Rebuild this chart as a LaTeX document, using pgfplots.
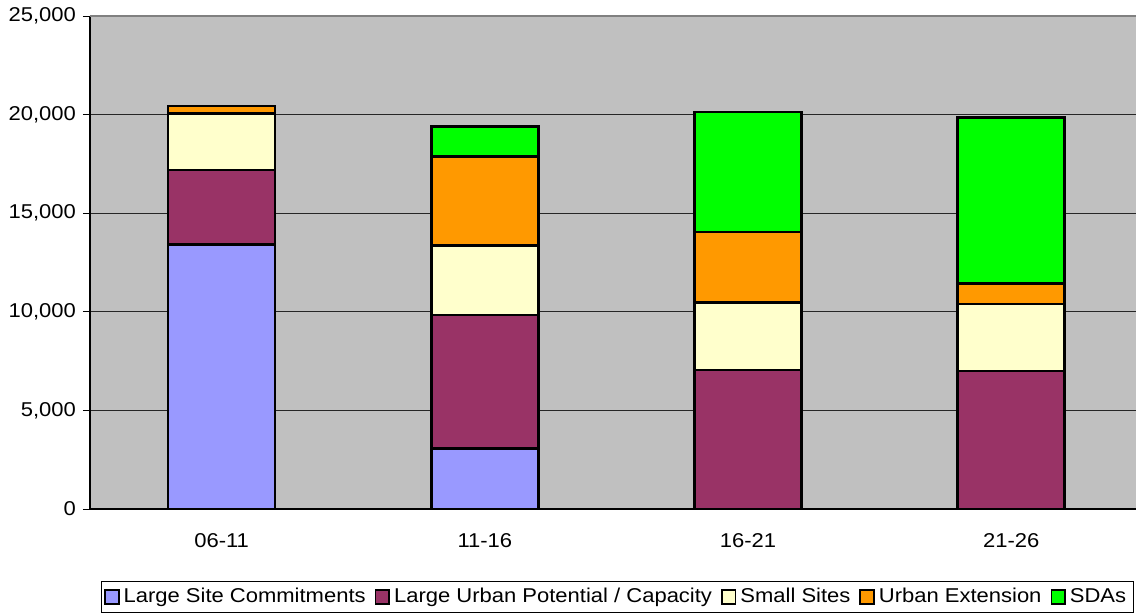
\documentclass[border=0pt]{standalone}
\usepackage{fontspec}
\setmainfont[FakeStretch=1.1]{Liberation Sans}
\usepackage{pgfplots}
\pgfplotsset{compat=1.18}
\definecolor{lsc}{HTML}{9999FF}
\definecolor{lup}{HTML}{993366}
\definecolor{ss}{HTML}{FFFFCC}
\definecolor{ue}{HTML}{FF9900}
\definecolor{sda}{HTML}{00FF00}
\definecolor{bg}{HTML}{C0C0C0}
\begin{document}
\fontsize{10}{12}\selectfont
\begin{tikzpicture}
\begin{axis}[
  name=ax,
  scale only axis,
  width=523pt, height=246.5pt,
  ybar stacked,
  bar width=53.5pt,
  xmin=-0.5, xmax=3.474,
  ymin=0, ymax=25000,
  xtick={0,1,2,3},
  xticklabels={06-11,11-16,16-21,21-26},
  major x tick style={draw=none},
  extra x ticks={-0.5,0.5,1.5,2.5},
  extra x tick labels={},
  extra x tick style={tick style={draw=black, thin}, major tick length=6pt, tick align=outside, grid=none},
  ytick={0,5000,10000,15000,20000,25000},
  scaled y ticks=false,
  /pgf/number format/1000 sep={,},
  /pgf/number format/assume math mode=true,
  yticklabel style={font=\fontsize{10}{12}\selectfont},
  xticklabel style={font=\fontsize{10}{12}\selectfont, yshift=-5pt},
  ytick style={draw=black, thin},
  major tick length=3.5pt,
  tick align=outside,
  ymajorgrids,
  major grid style={draw=black!85, line width=0.5pt},
  axis background/.style={fill=bg},
  axis x line*=bottom,
  axis y line*=left,
  axis line style={draw=black, line width=0.6pt, -},
  every axis plot/.append style={draw=black, line width=1.3pt},
  area legend,
  legend columns=5,
  legend style={at={(0.504,-0.1785)}, anchor=center, draw=black, fill=white,
    font=\fontsize{10}{12}\selectfont, inner sep=1.5pt,
    /tikz/every even column/.append style={column sep=2.5pt}},
  legend image code/.code={\draw[#1, line width=0.9pt] (0pt,-3.4pt) rectangle (6.8pt,3.4pt);},
]
\addplot[fill=lsc] coordinates {(0,13420) (1,3080) (2,0) (3,0)};
\addplot[fill=lup] coordinates {(0,3780) (1,6760) (2,7050) (3,7000)};
\addplot[fill=ss] coordinates {(0,2850) (1,3530) (2,3430) (3,3400)};
\addplot[fill=ue] coordinates {(0,390) (1,4500) (2,3570) (3,1050)};
\addplot[fill=sda] coordinates {(0,0) (1,1520) (2,6080) (3,8410)};
\legend{Large Site Commitments, Large Urban Potential / Capacity, Small Sites, Urban Extension, SDAs}
\draw[draw=gray, line width=1pt] (rel axis cs:0,1) -- (rel axis cs:1,1);
\end{axis}
\pgfresetboundingbox
\path[use as bounding box] ([shift={(-45pt,-53pt)}]ax.south west) rectangle ([shift={(0pt,8pt)}]ax.north east);
\end{tikzpicture}
\end{document}
